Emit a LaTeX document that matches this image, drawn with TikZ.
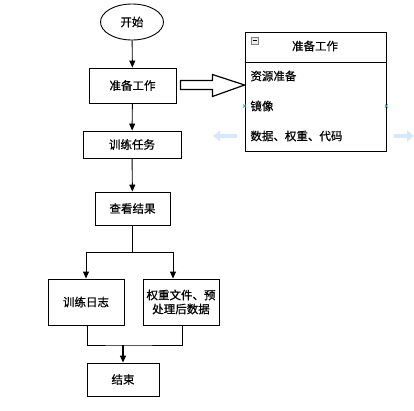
\documentclass[tikz,border=0pt]{standalone}
\usepackage{fontspec}
\newfontfamily\cjk{Noto Sans CJK SC}[FakeBold=0.6]
\usetikzlibrary{shapes.geometric,arrows.meta,calc}
\definecolor{hintblue}{RGB}{214,232,250}
\definecolor{markblue}{RGB}{40,150,220}
\begin{document}
\begin{tikzpicture}[x=1pt,y=-1pt,line width=0.9pt]
\tikzstyle{every node}=[font=\cjk\fontsize{11.5}{14}\selectfont,inner sep=1pt]
\tikzstyle{stepbox}=[draw,rectangle,fill=white]
\tikzstyle{flow}=[-{Triangle[length=7pt,width=6pt]}]
\useasboundingbox (0,0) rectangle (414,410);
% main flow
\node[draw,ellipse,minimum width=63,minimum height=36] (start) at (132,22) {开始};
\node[stepbox,minimum width=87,minimum height=35] (prep) at (132.5,85.5) {准备工作};
\node[stepbox,minimum width=98,minimum height=27] (train) at (132,144.5) {训练任务};
\node[stepbox,minimum width=75,minimum height=33] (check) at (132.5,208.5) {查看结果};
\node[stepbox,minimum width=76,minimum height=46] (log) at (86,302) {训练日志};
\node[stepbox,minimum width=76,minimum height=46,align=center] (weight) at (181,302) {权重文件、预\\处理后数据};
\node[stepbox,minimum width=72,minimum height=33] (end) at (123,379.5) {结束};
\coordinate (split) at (check.south |- 0,252);
\coordinate (merge) at (end.north |- 0,345);
\draw[flow] (start) -- (prep);
\draw[flow] (prep) -- (train);
\draw[flow] (train) -- (check);
\draw (check) -- (split);
\draw[flow] (split) -| (log.north);
\draw[flow] (split) -| ([xshift=-8]weight.north);
\draw ([xshift=1]log.south) |- (merge) -| ([xshift=1]weight.south);
\draw[flow,line width=1.3pt] (merge) -- (end);
% detail box
\node[stepbox,minimum width=141,minimum height=119] (detail) at (315.5,91.5) {};
\draw (detail.west |- 0,62) -- (detail.east |- 0,62);
\node (head) at (315,46) {准备工作};
\node[anchor=west] (res) at (249,76) {资源准备};
\node[anchor=west] (img) at (249,106) {镜像};
\node[anchor=west] (data) at (249,136) {数据、权重、代码};
\draw[gray,line width=0.6pt,fill=gray!15] (251,37) rectangle (258,44);
\draw (252.5,40.5) -- (256.5,40.5);
\foreach \p in {west,east}
 \draw[markblue,line width=0.7pt] ($(detail.\p |- img)+(-1.5,-1.5)$) -- ++(3,3)
  ($(detail.\p |- img)+(-1.5,1.5)$) -- ++(3,-3);
% block arrow
\draw[fill=white,line width=1.2pt] ($(prep.east)+(4,-5)$) -- ++(32,0) -- ++(0,-6) -- (detail.west |- 0,85)
 -- ($(prep.east)+(36,11)$) -- ++(0,-7) -- ++(-32,0) -- cycle;
% hint arrows
\draw[hintblue,line width=4pt,-{Triangle[length=7pt,width=11pt]}] (237,136) -- (213,136);
\draw[hintblue,line width=4pt,-{Triangle[length=7pt,width=11pt]}] (394,136) -- (414,136);
\end{tikzpicture}
\end{document}
